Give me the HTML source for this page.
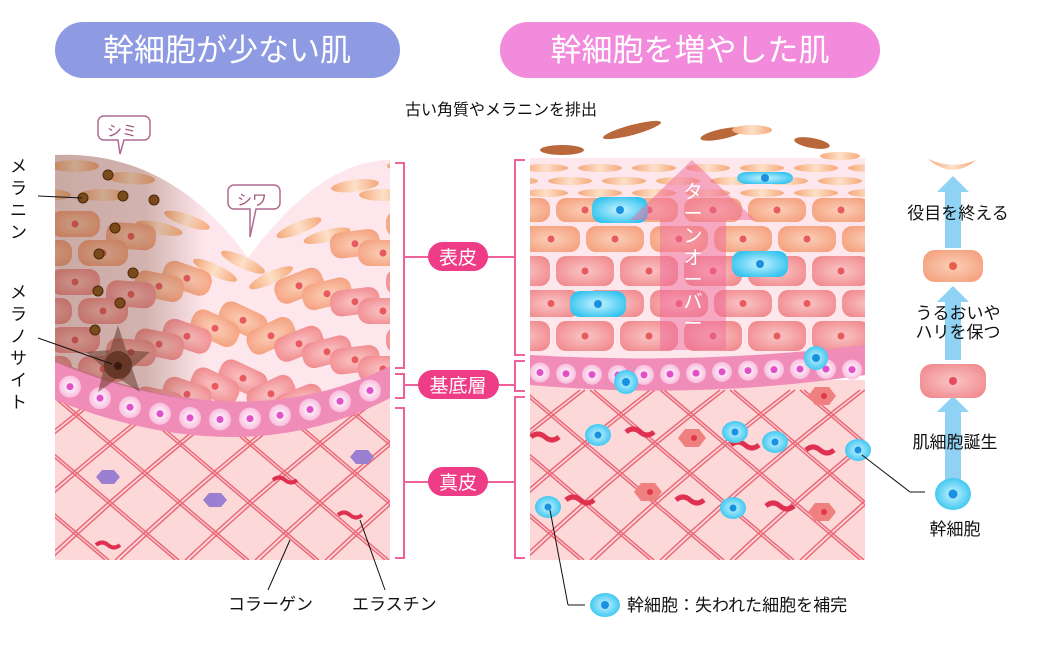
<!DOCTYPE html>
<html><head><meta charset="utf-8"><style>
html,body{margin:0;padding:0;background:#fff;}
svg{display:block;font-family:"Liberation Sans","Noto Sans CJK JP",sans-serif;}
</style></head><body>
<svg id="s" width="1041" height="645" viewBox="0 0 1041 645" xmlns="http://www.w3.org/2000/svg">
<defs>
<radialGradient id="co" cx="50%" cy="50%" r="60%"><stop offset="0" stop-color="#fbd0b8"/><stop offset="1" stop-color="#f4a07e"/></radialGradient>
<radialGradient id="cp" cx="50%" cy="50%" r="60%"><stop offset="0" stop-color="#fbc6c6"/><stop offset="1" stop-color="#f08a8e"/></radialGradient>
<radialGradient id="cb" cx="50%" cy="50%" r="60%"><stop offset="0" stop-color="#c9f3ff"/><stop offset="1" stop-color="#28c0ee"/></radialGradient>
<radialGradient id="bc" cx="50%" cy="50%" r="60%"><stop offset="0" stop-color="#ffffff"/><stop offset="1" stop-color="#f7b0d8"/></radialGradient>
<linearGradient id="fl" x1="0" x2="1"><stop offset="0" stop-color="#f5a878"/><stop offset="0.5" stop-color="#fde0c8"/><stop offset="1" stop-color="#f5a878"/></linearGradient>
<linearGradient id="shadow" x1="0" x2="1"><stop offset="0" stop-color="#6b3a20" stop-opacity="0.35"/><stop offset="0.6" stop-color="#6b3a20" stop-opacity="0.3"/><stop offset="1" stop-color="#6b3a20" stop-opacity="0"/></linearGradient>
<clipPath id="lep"><path d="M55,155 Q170,150 248,258 Q320,160 390,160 L390,372 Q245,440 55,362 Z"/></clipPath>
<clipPath id="lder"><rect x="55" y="380" width="335" height="180"/></clipPath>
<clipPath id="rep"><rect x="530" y="158" width="335" height="200"/></clipPath>
<clipPath id="rder"><rect x="530" y="380" width="335" height="180"/></clipPath>
</defs>

<rect x="55" y="22" width="345" height="56" rx="28" fill="#8e9be2"/>
<text x="227" y="61" font-size="31" fill="#fff" text-anchor="middle">幹細胞が少ない肌</text>
<rect x="500" y="22" width="380" height="56" rx="28" fill="#f28bdc"/>
<text x="690" y="61" font-size="31" fill="#fff" text-anchor="middle">幹細胞を増やした肌</text>

<rect x="55" y="360" width="335" height="200" fill="#fcd8d8"/>
<g id="lcol" clip-path="url(#lder)" stroke="#ea6a7a" stroke-width="1.5" fill="none"></g>
<path d="M55,155 Q170,150 248,258 Q320,160 390,160 L390,372 Q245,440 55,362 Z" fill="#fde6ec"/>
<g id="lcells" clip-path="url(#lep)"></g>
<path d="M55,360 Q245,440 390,366 L390,398 Q245,475 55,400 Z" fill="#f08cb8"/>
<g id="lbasal"></g>
<rect x="55" y="150" width="150" height="260" fill="url(#shadow)" clip-path="url(#lep)"/>
<g id="melanin"></g>
<path d="M118,325 L126,350 L150,352 L132,368 L140,392 L118,378 L98,392 L104,368 L86,352 L110,350 Z" fill="#6a3a2a" opacity="0.55"/>
<circle cx="118" cy="365" r="14" fill="#5a2e1e" opacity="0.8"/>
<circle cx="118" cy="366" r="4" fill="#3a1a10"/>

<text font-size="17" fill="#111"><tspan x="10" y="172">メ</tspan><tspan x="10" y="194">ラ</tspan><tspan x="10" y="216">ニ</tspan><tspan x="10" y="238">ン</tspan></text>
<line x1="38" y1="196" x2="82" y2="198" stroke="#111" stroke-width="1"/>
<text font-size="17" fill="#111"><tspan x="10" y="298">メ</tspan><tspan x="10" y="320">ラ</tspan><tspan x="10" y="342">ノ</tspan><tspan x="10" y="364">サ</tspan><tspan x="10" y="386">イ</tspan><tspan x="10" y="408">ト</tspan></text>
<line x1="38" y1="338" x2="112" y2="364" stroke="#111" stroke-width="1"/>
<path d="M104,116 h40 a6,6 0 0 1 6,6 v12 a6,6 0 0 1 -6,6 h-20 l-4,14 l-2,-14 h-14 a6,6 0 0 1 -6,-6 v-12 a6,6 0 0 1 6,-6z" fill="#fff" stroke="#b06a90" stroke-width="1.5"/>
<text x="122" y="136" font-size="15" fill="#a0507a" text-anchor="middle">シミ</text>
<path d="M234,185 h40 a6,6 0 0 1 6,6 v12 a6,6 0 0 1 -6,6 h-18 l-6,28 l0,-28 h-16 a6,6 0 0 1 -6,-6 v-12 a6,6 0 0 1 6,-6z" fill="#fff" stroke="#b06a90" stroke-width="1.5"/>
<text x="252" y="205" font-size="15" fill="#a0507a" text-anchor="middle">シワ</text>
<line x1="290" y1="540" x2="268" y2="590" stroke="#111" stroke-width="1"/>
<line x1="360" y1="520" x2="385" y2="590" stroke="#111" stroke-width="1"/>
<text x="228" y="610" font-size="17" fill="#111">コラーゲン</text>
<text x="352" y="610" font-size="17" fill="#111">エラスチン</text>

<g stroke="#f0609a" stroke-width="2" fill="none">
<path d="M395,163 H404 V368 H395"/><path d="M395,374 H404 V398 H395"/><path d="M395,408 H404 V558 H395"/>
<path d="M525,160 H515 V355 H525"/><path d="M525,361 H515 V391 H525"/><path d="M525,397 H515 V558 H525"/>
<path d="M404,257 H515 M404,385 H515 M404,482 H515"/>
</g>
<g fill="#ee3c86">
<rect x="428" y="242" width="60" height="29" rx="14.5"/>
<rect x="418" y="370" width="81" height="29" rx="14.5"/>
<rect x="428" y="467" width="60" height="29" rx="14.5"/>
</g>
<g fill="#fff" font-size="19" text-anchor="middle">
<text x="458" y="264">表皮</text><text x="458" y="392">基底層</text><text x="458" y="489">真皮</text>
</g>

<rect x="530" y="380" width="335" height="180" fill="#fcd8d8"/>
<g id="rcol" clip-path="url(#rder)" stroke="#ea6a7a" stroke-width="1.5" fill="none"></g>
<rect x="530" y="158" width="335" height="200" fill="#fde6ec"/>
<g id="rcells" clip-path="url(#rep)"></g>
<path d="M530,355 Q700,365 865,345 L865,375 Q700,400 530,385 Z" fill="#f08cb8"/>
<g id="rbasal"></g>
<g id="rderm"></g>
<path d="M692,160 L755,220 L726,220 L726,350 L660,350 L660,220 L630,220 Z" fill="#f06a9a" opacity="0.5"/>
<text font-size="19" fill="#fff" text-anchor="middle"><tspan x="693" y="198">タ</tspan><tspan x="693" y="220">ー</tspan><tspan x="693" y="242">ン</tspan><tspan x="693" y="264">オ</tspan><tspan x="693" y="286">ー</tspan><tspan x="693" y="308">バ</tspan><tspan x="693" y="330">ー</tspan></text>
<g>
<ellipse cx="562" cy="150" rx="22" ry="5" fill="#b8683a"/>
<ellipse cx="632" cy="130" rx="30" ry="5" fill="#b8683a" transform="rotate(-15 632 130)"/>
<ellipse cx="722" cy="134" rx="22" ry="5" fill="#b8683a" transform="rotate(-12 722 134)"/>
<ellipse cx="752" cy="130" rx="20" ry="5" fill="url(#fl)"/>
<ellipse cx="812" cy="143" rx="18" ry="5" fill="#b8683a" transform="rotate(10 812 143)"/>
<ellipse cx="840" cy="156" rx="20" ry="4" fill="url(#fl)"/>
</g>
<text x="405" y="115" font-size="16" fill="#111">古い角質やメラニンを排出</text>
<line x1="550" y1="510" x2="568" y2="605" stroke="#111"/><line x1="568" y1="605" x2="585" y2="605" stroke="#111"/>
<ellipse cx="605" cy="605" rx="15" ry="12" fill="url(#cb)"/><circle cx="605" cy="605" r="4" fill="#1a90e0"/>
<text x="627" y="611" font-size="17" fill="#111">幹細胞：失われた細胞を補完</text>

<g fill="#8fd2f4">
<rect x="945" y="190" width="16" height="58"/><path d="M937,192 L953,176 L969,192Z"/>
<rect x="945" y="300" width="16" height="60"/><path d="M937,302 L953,286 L969,302Z"/>
<rect x="945" y="410" width="16" height="70"/><path d="M937,412 L953,396 L969,412Z"/>
</g>
<path d="M928,159 Q953,170 976,160 Q953,180 928,159Z" fill="url(#fl)"/>
<rect x="923" y="250" width="60" height="32" rx="12" fill="url(#co)"/><circle cx="953" cy="266" r="4" fill="#e8604c"/>
<rect x="920" y="364" width="66" height="34" rx="12" fill="url(#cp)"/><circle cx="953" cy="381" r="4" fill="#e84a5c"/>
<ellipse cx="953" cy="494" rx="18" ry="16" fill="url(#cb)"/><circle cx="953" cy="494" r="4.5" fill="#1a90e0"/>
<line x1="862" y1="455" x2="910" y2="492" stroke="#111"/><line x1="910" y1="492" x2="925" y2="492" stroke="#111"/>
<g font-size="17" fill="#111" text-anchor="middle">
<text x="958" y="219">役目を終える</text>
<text x="958" y="319">うるおいや</text><text x="958" y="338">ハリを保つ</text>
<text x="955" y="448">肌細胞誕生</text>
<text x="955" y="535">幹細胞</text>
</g>
</svg>
<script>
var NS="http://www.w3.org/2000/svg";
function el(p,t,a){var e=document.createElementNS(NS,t);for(var k in a)e.setAttribute(k,a[k]);document.getElementById(p).appendChild(e);return e;}
var rows=[[163,10,'fl'],[176,10,'fl'],[188,10,'fl'],[198,24,'co'],[226,26,'co'],[256,30,'cp'],[290,27,'cp'],[321,30,'cp']];
rows.forEach(function(r,i){var y=r[0],h=r[1],g=r[2];var w=g=='fl'?48:58;var off=(i%2)*30;
for(var x=522-off;x<870;x+=w+6){
 if(g=='fl'){el('rcells','ellipse',{cx:x+w/2,cy:y+h/2,rx:w/2-2,ry:h/2-1,fill:'url(#fl)'});}
 else{el('rcells','rect',{x:x,y:y,width:w,height:h,rx:10,fill:'url(#'+g+')'});el('rcells','circle',{cx:x+w/2,cy:y+h/2,r:3.5,fill:'#e85a60'});}
}});
[[620,210],[765,178],[760,264],[598,304]].forEach(function(p,i){el('rcells','rect',{x:p[0]-28,y:p[1]-(i==1?6:13),width:56,height:i==1?12:26,rx:10,fill:'url(#cb)'});el('rcells','circle',{cx:p[0],cy:p[1],r:4,fill:'#1a90e0'});});
for(var x=540;x<865;x+=26){var y=372+Math.sin((x-530)/60)*3;el('rbasal','circle',{cx:x,cy:y,r:10,fill:'url(#bc)'});el('rbasal','circle',{cx:x,cy:y,r:3.5,fill:'#e050c8'});}
[[626,382],[816,358]].forEach(function(p){el('rbasal','circle',{cx:p[0],cy:p[1],r:12,fill:'url(#cb)'});el('rbasal','circle',{cx:p[0],cy:p[1],r:4,fill:'#1a90e0'});});
function coll(g,x0,x1,y0,y1){for(var i=0;i<8;i++){var a=x0-150+i*70;el(g,'path',{d:'M'+a+','+y0+' Q'+(a+100)+','+((y0+y1)/2)+' '+(a+200)+','+y1});el(g,'path',{d:'M'+(a+4)+','+y0+' Q'+(a+104)+','+((y0+y1)/2)+' '+(a+204)+','+y1});el(g,'path',{d:'M'+(a+200)+','+y0+' Q'+(a+90)+','+((y0+y1)/2)+' '+a+','+y1});el(g,'path',{d:'M'+(a+205)+','+y0+' Q'+(a+95)+','+((y0+y1)/2)+' '+(a+5)+','+y1});}}
coll('rcol',530,865,390,560);coll('lcol',55,390,390,560);
[[545,437],[640,432],[745,445],[820,450],[580,500],[690,500],[780,506]].forEach(function(p){el('rderm','path',{d:'M'+(p[0]-14)+','+p[1]+' q7,-6 14,0 t14,0',stroke:'#e03050','stroke-width':5,fill:'none'});});
[[598,435],[735,432],[775,442],[858,450],[548,507],[733,508]].forEach(function(p){el('rderm','ellipse',{cx:p[0],cy:p[1],rx:13,ry:11,fill:'url(#cb)'});el('rderm','circle',{cx:p[0],cy:p[1],r:3.5,fill:'#1a90e0'});});
[[692,438],[822,396],[648,492],[822,512]].forEach(function(p){el('rderm','path',{d:'M'+(p[0]-14)+','+p[1]+' l7,-9 h14 l7,9 l-7,9 h-14z',fill:'#f08080'});el('rderm','circle',{cx:p[0]+2,cy:p[1],r:3,fill:'#e03a4a'});});
for(var r=0;r<8;r++){for(var c=-1;c<7;c++){
 var x=55+c*56+(r%2)*28+20;var d=Math.abs(x-248);var dip=Math.max(0,100-d*0.75);
 var y=166+r*29+dip;var ang=(x<248?1:-1)*Math.min(25,dip*0.35);
 var g=r<2?'fl':(r<4?'co':'cp');
 var gg=el('lcells','g',{transform:'translate('+x+','+y+') rotate('+ang+')'});
 if(g=='fl'){var e=document.createElementNS(NS,'ellipse');e.setAttribute('rx',24);e.setAttribute('ry',6);e.setAttribute('fill','url(#fl)');gg.appendChild(e);}
 else{var e=document.createElementNS(NS,'rect');e.setAttribute('x',-25);e.setAttribute('y',-13);e.setAttribute('width',50);e.setAttribute('height',26);e.setAttribute('rx',11);e.setAttribute('fill','url(#'+g+')');gg.appendChild(e);
 var n=document.createElementNS(NS,'circle');n.setAttribute('r',3.5);n.setAttribute('fill','#e85a60');gg.appendChild(n);}
}}
for(var x=70;x<390;x+=30){var t=(x-55)/335;var y=(1-t)*(1-t)*380+2*t*(1-t)*458+t*t*382;el('lbasal','circle',{cx:x,cy:y,r:11,fill:'url(#bc)'});el('lbasal','circle',{cx:x,cy:y,r:3.5,fill:'#e050c8'});}
[[108,175],[83,198],[123,196],[154,200],[115,228],[99,254],[133,273],[98,291],[120,303],[95,330]].forEach(function(p){el('melanin','circle',{cx:p[0],cy:p[1],r:5,fill:'#7a4a1a',stroke:'#4a2a0a','stroke-width':1});});
[[108,477],[215,500],[362,457]].forEach(function(p){el('lcol','path',{d:'M'+(p[0]-12)+','+p[1]+' l6,-7 h12 l6,7 l-6,7 h-12z',fill:'#9b7fd0',stroke:'none'});});
[[140,415],[285,480],[350,515],[108,545]].forEach(function(p){el('lcol','path',{d:'M'+(p[0]-12)+','+p[1]+' q6,-5 12,0 t12,0',stroke:'#e03050','stroke-width':4});});
</script>
</body></html>
